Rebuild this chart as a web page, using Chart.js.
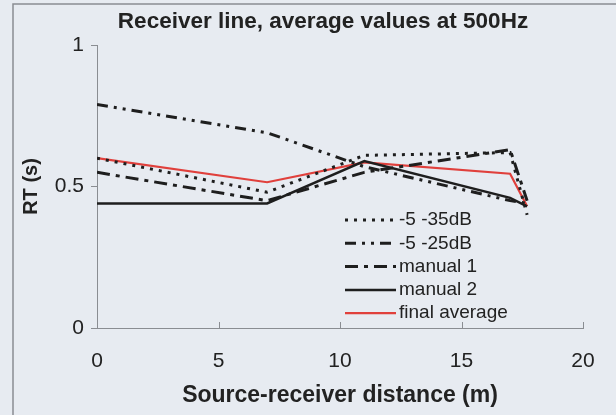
<!DOCTYPE html>
<html>
<head>
<meta charset="utf-8">
<script src="https://cdn.jsdelivr.net/npm/chart.js@4/dist/chart.umd.min.js"></script>
<style>
  html, body { margin: 0; padding: 0; background: #e7ebf1; }
  #wrap { width: 616px; height: 415px; }
</style>
</head>
<body>
<div id="wrap"><canvas id="grafico" width="616" height="415"></canvas></div>
<script>
// distancias fuente-receptor (m)
const distancias = [0, 7, 11, 17, 17.7];

// RT (s) a 500Hz para cada serie
const rt35dB = [0.60, 0.48, 0.61, 0.62, 0.40];
const rt25dB = [0.79, 0.69, 0.57, 0.45, 0.44];
const manual1 = [0.55, 0.45, 0.55, 0.63, 0.45];
const manual2 = [0.44, 0.44, 0.59, 0.46, 0.43];
const mediaFinal = [0.60, 0.515, 0.585, 0.545, 0.43];

const ticksX = [0, 5, 10, 15, 20];
const ticksY = [0, 0.5, 1];

const titulo = 'Receiver line, average values at 500Hz';
const fuente = 'Liberation Sans, Arial, sans-serif';

function puntos(valores) {
    return distancias.map((d, i) => ({ x: d, y: valores[i] }));
}

function serie(label, valores, color, dash, ancho) {
    return {
        label: label,
        data: puntos(valores),
        borderColor: color,
        borderWidth: ancho,
        borderDash: dash,
        pointRadius: 0,
        tension: 0,
        fill: false
    };
}

// fondo, marco y titulo
const fondo = {
    id: 'fondo',
    beforeDraw(chart) {
        const ctx = chart.ctx;
        ctx.save();
        ctx.fillStyle = '#e7ebf1';
        ctx.fillRect(0, 0, chart.width, chart.height);
        ctx.strokeStyle = '#8a8d92';
        ctx.lineWidth = 1.5;
        ctx.beginPath();
        ctx.moveTo(13, chart.height + 2);
        ctx.lineTo(13, 4);
        ctx.lineTo(chart.width + 2, 4);
        ctx.stroke();
        ctx.fillStyle = '#222';
        ctx.font = 'bold 22.5px ' + fuente;
        ctx.textAlign = 'center';
        ctx.textBaseline = 'middle';
        ctx.fillText(titulo, 323, 22);
        ctx.restore();
    }
};

// marcas del eje x hacia dentro
const marcasX = {
    id: 'marcasX',
    afterDraw(chart) {
        const ctx = chart.ctx;
        const x = chart.scales.x;
        const base = chart.chartArea.bottom;
        ctx.save();
        ctx.strokeStyle = '#8a8d92';
        ctx.lineWidth = 1;
        ticksX.forEach(v => {
            const px = Math.round(x.getPixelForValue(v)) + 0.5;
            ctx.beginPath();
            ctx.moveTo(px, base);
            ctx.lineTo(px, base - 6);
            ctx.stroke();
        });
        ctx.restore();
    }
};

// leyenda dentro del area del grafico
const leyenda = {
    id: 'leyenda',
    afterDraw(chart) {
        const ctx = chart.ctx;
        const x0 = 345, x1 = 396, xt = 399;
        let y = 220;
        ctx.save();
        ctx.font = '19px ' + fuente;
        ctx.textBaseline = 'middle';
        chart.data.datasets.forEach(ds => {
            ctx.strokeStyle = ds.borderColor;
            ctx.lineWidth = ds.borderWidth;
            ctx.setLineDash(ds.borderDash || []);
            ctx.beginPath();
            ctx.moveTo(x0, y);
            ctx.lineTo(x1, y);
            ctx.stroke();
            ctx.setLineDash([]);
            ctx.fillStyle = '#222';
            ctx.fillText(ds.label, xt, y);
            y += 23.3;
        });
        ctx.restore();
    }
};

document.addEventListener('DOMContentLoaded', () => {
    const canvas = document.getElementById('grafico');
    new Chart(canvas, {
        type: 'line',
        data: {
            datasets: [
                serie('-5 -35dB', rt35dB, '#1e1e1e', [3, 6], 3),
                serie('-5 -25dB', rt25dB, '#1e1e1e', [11, 6, 3, 6, 3, 6], 3),
                serie('manual 1', manual1, '#1e1e1e', [13, 6, 4, 6], 3),
                serie('manual 2', manual2, '#1e1e1e', [], 2.5),
                serie('final average', mediaFinal, '#e0403c', [], 2.2)
            ]
        },
        options: {
            responsive: false,
            animation: false,
            layout: { padding: { left: 14, right: 33, top: 45, bottom: 6 } },
            plugins: {
                legend: { display: false },
                tooltip: { enabled: false },
                title: { display: false }
            },
            scales: {
                x: {
                    type: 'linear',
                    min: 0,
                    max: 20,
                    afterBuildTicks: s => { s.ticks = ticksX.map(v => ({ value: v })); },
                    afterFit: s => { s.height = 415 - 328 - 6; },
                    grid: { display: true, drawOnChartArea: false, drawTicks: false, color: '#8a8d92' },
                    border: { display: true, color: '#8a8d92', width: 1 },
                    ticks: { color: '#222', padding: 21, font: { family: fuente, size: 21 } },
                    title: {
                        display: true,
                        text: 'Source-receiver distance (m)',
                        color: '#222',
                        font: { family: fuente, size: 23, weight: 'bold' },
                        padding: { top: 0, bottom: 0 }
                    }
                },
                y: {
                    min: 0,
                    max: 1,
                    afterBuildTicks: s => { s.ticks = ticksY.map(v => ({ value: v })); },
                    afterFit: s => { s.width = 97 - 14; },
                    grid: { display: true, drawOnChartArea: false, drawTicks: true, tickLength: 6, color: '#8a8d92' },
                    border: { display: true, color: '#8a8d92', width: 1 },
                    ticks: {
                        color: '#222',
                        padding: 7,
                        font: { family: fuente, size: 21 },
                        callback: v => String(v)
                    },
                    title: {
                        display: true,
                        text: 'RT (s)',
                        color: '#222',
                        font: { family: fuente, size: 20, weight: 'bold' },
                        padding: { top: 5, bottom: 0 }
                    }
                }
            }
        },
        plugins: [fondo, marcasX, leyenda]
    });
});
</script>
</body>
</html>
